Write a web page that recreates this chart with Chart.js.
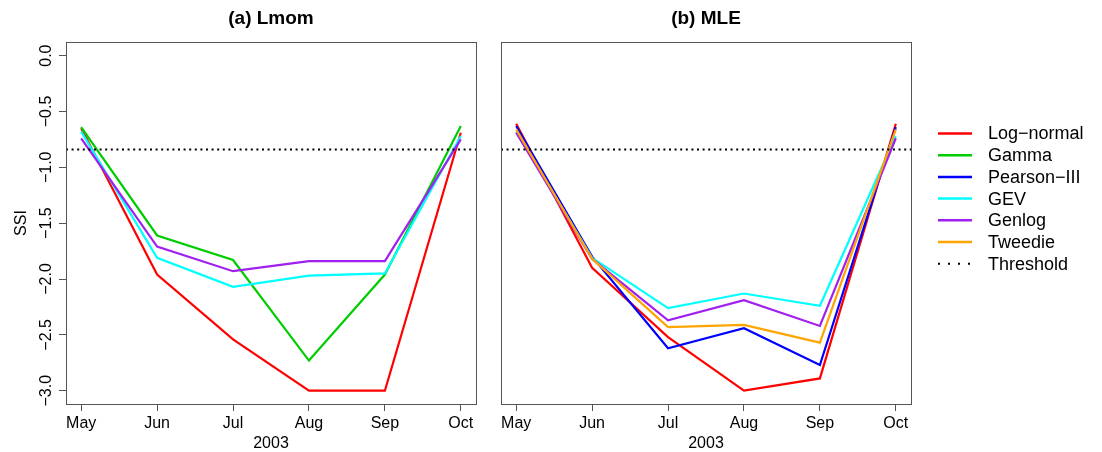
<!DOCTYPE html>
<html>
<head>
<meta charset="utf-8">
<script src="https://cdn.jsdelivr.net/npm/chart.js@4.4.0/dist/chart.umd.min.js"></script>
<style>
  body { margin: 0; background: #fff; }
  #wrap { position: relative; width: 1102px; height: 452px; }
  canvas { position: absolute; top: 0; }
</style>
</head>
<body>
<div id="wrap">
  <canvas id="lmom" width="490" height="452" style="left:0"></canvas>
  <canvas id="mle" width="612" height="452" style="left:490px"></canvas>
</div>
<script>
const months = ["May", "Jun", "Jul", "Aug", "Sep", "Oct"];
const yTicks = [0, -0.5, -1, -1.5, -2, -2.5, -3];
const yTickLabels = ["0.0", "\u22120.5", "\u22121.0", "\u22121.5", "\u22122.0", "\u22122.5", "\u22123.0"];
const threshold = -0.84;

const seriesNames = ["Log\u2212normal", "Gamma", "Pearson\u2212III", "GEV", "Genlog", "Tweedie"];
const seriesColors = ["#FF0000", "#00CD00", "#0000FF", "#00FFFF", "#A020F0", "#FFA500"];

// (a) L-moments
const lmomLogNormal = [-0.65, -1.96, -2.54, -3.00, -3.00, -0.69];
const lmomGamma     = [-0.64, -1.61, -1.83, -2.73, -1.96, -0.63];
const lmomGEV       = [-0.68, -1.81, -2.07, -1.97, -1.95, -0.72];
const lmomGenlog    = [-0.74, -1.71, -1.93, -1.84, -1.84, -0.75];

// (b) maximum likelihood
const mleLogNormal = [-0.61, -1.90, -2.52, -3.00, -2.89, -0.61];
const mlePearson   = [-0.63, -1.80, -2.62, -2.44, -2.77, -0.64];
const mleGEV       = [-0.68, -1.81, -2.26, -2.13, -2.24, -0.72];
const mleGenlog    = [-0.69, -1.82, -2.37, -2.19, -2.42, -0.74];
const mleTweedie   = [-0.66, -1.82, -2.43, -2.41, -2.57, -0.66];

const X_MIN = -0.2, X_MAX = 5.2, Y_MIN = -3.119, Y_MAX = 0.122;
const FONT = '"Liberation Sans", Arial, Helvetica, sans-serif';

function makeDatasets(list) {
    const sets = list.map(([k, vals], i) => ({
        label: seriesNames[k],
        data: vals.map((v, j) => ({ x: j, y: v })),
        borderColor: seriesColors[k],
        borderWidth: 2.2,
        pointRadius: 0,
        tension: 0,
        order: -i,
    }));
    sets.push({
        label: "Threshold",
        data: [{ x: X_MIN, y: threshold }, { x: X_MAX, y: threshold }],
        borderColor: "#000",
        borderWidth: 2,
        borderDash: [2, 3.6],
        pointRadius: 0,
        order: -99,
    });
    return sets;
}

// box, panel title, rotated y labels, legend
function decor(title, withYLabels, withLegend) {
    return {
        id: "decor",
        afterDraw(chart) {
            const ctx = chart.ctx, a = chart.chartArea;
            ctx.save();
            ctx.strokeStyle = "#555";
            ctx.lineWidth = 1;
            ctx.strokeRect(Math.round(a.left) + 0.5, Math.round(a.top) + 0.5,
                Math.round(a.right - a.left), Math.round(a.bottom - a.top));
            ctx.fillStyle = "#000";
            ctx.textAlign = "center";
            ctx.textBaseline = "middle";
            ctx.font = "bold 19px " + FONT;
            ctx.fillText(title, (a.left + a.right) / 2, 19);

            if (withYLabels) {
                const ys = chart.scales.y;
                ctx.font = "16px " + FONT;
                yTicks.forEach((v, i) => {
                    ctx.save();
                    ctx.translate(47, ys.getPixelForValue(v));
                    ctx.rotate(-Math.PI / 2);
                    ctx.fillText(yTickLabels[i], 0, 0);
                    ctx.restore();
                });
            }

            if (withLegend) {
                const x0 = 448, x1 = 482, tx = 498;
                ctx.font = "18px " + FONT;
                ctx.textAlign = "left";
                const names = seriesNames.concat(["Threshold"]);
                names.forEach((name, i) => {
                    const y = 133.5 + i * 21.7;
                    ctx.beginPath();
                    if (i < seriesNames.length) {
                        ctx.strokeStyle = seriesColors[i];
                        ctx.lineWidth = 2.5;
                        ctx.setLineDash([]);
                    } else {
                        ctx.strokeStyle = "#000";
                        ctx.lineWidth = 2;
                        ctx.setLineDash([2, 8]);
                    }
                    ctx.moveTo(x0, y);
                    ctx.lineTo(x1, y);
                    ctx.stroke();
                    ctx.fillText(name, tx, y + 1);
                });
            }
            ctx.restore();
        },
    };
}

function makeChart(id, title, list, isLeft) {
    const ctx = document.getElementById(id).getContext("2d");
    return new Chart(ctx, {
        type: "line",
        data: { datasets: makeDatasets(list) },
        options: {
            responsive: false,
            animation: false,
            devicePixelRatio: 1,
            layout: { padding: isLeft ? { top: 42, right: 14, left: 0, bottom: 0 } : { top: 42, right: 191, left: 11, bottom: 0 } },
            plugins: { legend: { display: false }, tooltip: { enabled: false } },
            scales: {
                x: {
                    type: "linear",
                    min: X_MIN,
                    max: X_MAX,
                    afterBuildTicks: s => { s.ticks = months.map((m, i) => ({ value: i })); },
                    afterFit: s => { s.height = 48; },
                    ticks: {
                        callback: v => months[Math.round(v)],
                        autoSkip: false,
                        maxRotation: 0,
                        minRotation: 0,
                        padding: 3,
                        color: "#000",
                        font: { family: FONT, size: 16 },
                    },
                    grid: { drawOnChartArea: false, tickLength: 7, color: "#555" },
                    border: { display: false },
                    title: {
                        display: true,
                        text: "2003",
                        color: "#000",
                        padding: 0,
                        font: { family: FONT, size: 16, lineHeight: 1 },
                    },
                },
                y: {
                    type: "linear",
                    display: isLeft,
                    min: Y_MIN,
                    max: Y_MAX,
                    afterBuildTicks: s => { s.ticks = yTicks.map(v => ({ value: v })); },
                    afterFit: s => { s.width = isLeft ? 66 : 0; },
                    ticks: { display: false },
                    grid: { drawOnChartArea: false, tickLength: 7, color: "#555" },
                    border: { display: false },
                    title: {
                        display: isLeft,
                        text: "SSI",
                        color: "#000",
                        padding: { top: 12, bottom: 0 },
                        font: { family: FONT, size: 16 },
                    },
                },
            },
        },
        plugins: [decor(title, isLeft, !isLeft)],
    });
}

makeChart("lmom", "(a) Lmom", [
    [0, lmomLogNormal],
    [1, lmomGamma],
    [3, lmomGEV],
    [4, lmomGenlog],
], true);

makeChart("mle", "(b) MLE", [
    [0, mleLogNormal],
    [2, mlePearson],
    [3, mleGEV],
    [4, mleGenlog],
    [5, mleTweedie],
], false);
</script>
</body>
</html>
